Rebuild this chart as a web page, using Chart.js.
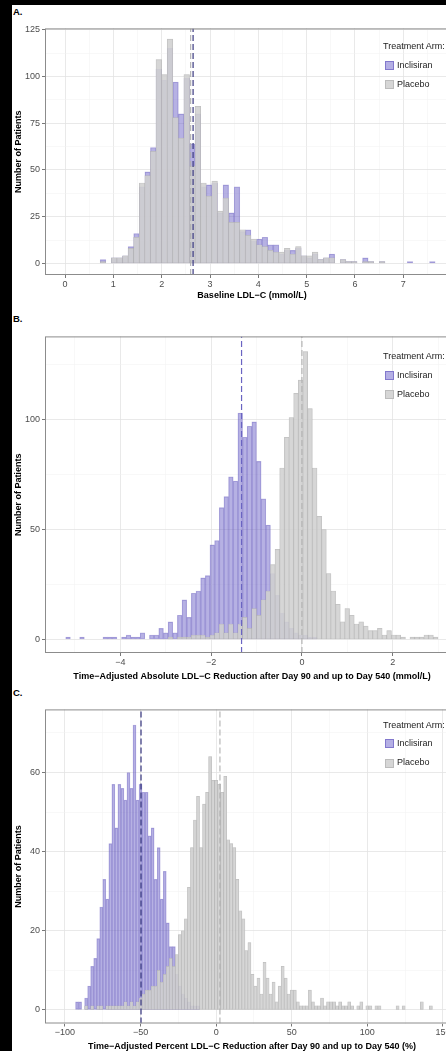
<!DOCTYPE html>
<html>
<head>
<meta charset="utf-8">
<script src="https://cdn.jsdelivr.net/npm/chart.js@4.4.1/dist/chart.umd.min.js"></script>
<style>
  html, body { margin: 0; padding: 0; width: 446px; height: 1051px; overflow: hidden; background: #000; }
  #sheet { position: absolute; left: 12px; top: 5px; width: 440px; height: 1046px; background: #fff; }
  .wrap { position: absolute; left: 12px; width: 450px; }
  .letter { position: absolute; left: 13px; font: bold 9.5px "Liberation Sans", Arial, sans-serif; color: #000; line-height: 11px; }
  .legt { position: absolute; left: 383px; font: 9px "Liberation Sans", Arial, sans-serif; color: #222; line-height: 11px; white-space: nowrap; }
  .sw { position: absolute; left: 384.5px; width: 7px; height: 7px; }
  .sw.inc { background: rgb(180,175,228); border: 0.8px solid rgb(130,120,205); }
  .sw.pla { background: #d6d6d6; border: 0.8px solid #bcbcbc; }
  .legi { position: absolute; left: 397px; font: 9px "Liberation Sans", Arial, sans-serif; color: #222; line-height: 11px; }
</style>
</head>
<body>
<div id="sheet"></div>

<div class="letter" style="top:6px">A.</div>
<div class="wrap" style="top:21px;height:282px"><canvas id="chartA"></canvas></div>

<div class="letter" style="top:313px">B.</div>
<div class="wrap" style="top:329px;height:354px"><canvas id="chartB"></canvas></div>

<div class="letter" style="top:687px">C.</div>
<div class="wrap" style="top:702px;height:351px"><canvas id="chartC"></canvas></div>

<div id="legends"></div>

<script>
// ==================== DATOS ====================
// panel A - baseline LDL-C (mmol/L), bins of ~0.1155
const A_BIN_START = 0.786;
const A_BIN_WIDTH = 0.1155;
const A_INCLISIRAN = [2,0,3,3,4,9,16,41,49,62,104,98,115,97,80,99,64,80,41,42,43,27,42,27,41,17,18,12,13,14,10,10,5,7,7,8,4,3,5,2,3,5,0,2,1,1,0,3,1,0,1,0,0,0,0,1,0,0,0,1,0];
const A_PLACEBO    = [1,0,3,3,4,8,14,43,47,60,109,101,120,78,67,101,52,84,43,36,44,28,35,22,22,18,15,13,10,9,7,6,6,8,5,9,4,4,6,2,3,3,0,2,1,1,0,1,1,0,1,0,0,0,0,0,0,0,0,0,0];
const A_MEANS = [2.65, 2.60];          // inclisiran, placebo
const A_X_TICKS = [0, 1, 2, 3, 4, 5, 6, 7];
const A_Y_TICKS = [0, 25, 50, 75, 100, 125];

// panel B - absolute reduction (mmol/L), bins of ~0.1025
const B_BIN_START = -5.1525;
const B_BIN_WIDTH = 0.1025;
const B_INCLISIRAN = [1,0,0,1,0,0,0,0,1,1,1,0,1,2,1,1,3,0,2,2,5,3,8,3,11,18,10,21,22,28,29,43,45,60,65,74,72,103,92,97,99,81,64,52,30,20,12,8,5,3,2,2,1,1,0,0,0,0,0,0,0,0,0,0,0,0,0,0,0,0,0,0,0,0,0,0,0,0,0,0];
const B_PLACEBO    = [0,0,0,0,0,0,0,0,0,0,0,0,0,0,0,0,0,0,0,0,0,0,1,0,1,1,1,2,2,2,1,2,3,7,3,7,3,7,10,5,14,11,18,22,34,41,78,92,101,112,118,131,105,78,56,50,30,22,16,8,14,11,7,8,6,4,4,5,2,4,2,2,1,0,1,1,1,2,2,1];
const B_MEANS = [-1.33, 0.0];
const B_X_TICKS = [-4, -2, 0, 2];
const B_Y_TICKS = [0, 50, 100];

// panel C - percent reduction (%), bins of 2
const C_BIN_START = -92;
const C_BIN_WIDTH = 2;
const C_INCLISIRAN = [2,2,0,3,6,11,13,18,26,33,28,42,57,46,57,56,53,60,56,72,53,57,55,55,44,46,33,41,28,35,22,16,16,9,6,4,3,2,1,1,1,0,0,0,0,0,0,0,0,0,0,0,0,0,0,0,0,0,0,0,0,0,0,0,0,0,0,0,0,0,0,0,0,0,0,0,0,0,0,0,0,0,0,0,0,0,0,0,0,0,0,0,0,0,0,0,0,0,0,0,0,0,0,0,0,0,0,0,0,0,0,0,0,0,0,0,0,0];
const C_PLACEBO    = [0,0,0,1,0,1,0,1,1,0,1,1,1,1,1,1,2,1,2,1,2,3,4,5,5,6,6,10,7,9,11,13,11,14,19,20,23,31,41,48,54,41,52,55,64,58,58,57,55,59,43,42,41,33,25,23,15,17,9,6,8,4,12,8,4,7,2,6,11,8,4,5,5,2,1,1,1,5,2,1,1,3,1,2,2,2,1,2,1,1,2,1,0,1,2,0,1,1,0,1,1,0,0,0,0,0,1,0,1,0,0,0,0,0,2,0,0,1];
const C_MEANS = [-49.7, 2.5];
const C_X_TICKS = [-100, -50, 0, 50, 100, 150];
const C_Y_TICKS = [0, 20, 40, 60];

// ==================== ESTILO ====================
Chart.defaults.font.family = '"Liberation Sans", Arial, Helvetica, sans-serif';
Chart.defaults.animation = false;

const INC_FILL = 'rgba(110,100,200,0.5)';
const INC_EDGE = 'rgba(110,100,190,0.45)';
const PLA_FILL = 'rgba(208,208,208,0.88)';
const PLA_EDGE = 'rgba(170,170,170,0.8)';
const GRID_MAJOR = '#e3e3e3';
const GRID_MINOR = '#f1f1f1';

function minus(v) { return String(v).replace('-', '\u2212'); }
function near(v, list) { return list.some(t => Math.abs(t - v) < 1e-6); }
function toPoints(start, width, counts) {
    return counts.map((c, i) => ({ x: +(start + i * width).toFixed(4), y: c }));
}

const frame = {
    id: 'frame',
    afterDraw(chart) {
        const { ctx, chartArea: a } = chart;
        ctx.save();
        ctx.strokeStyle = '#8c8c8c';
        ctx.lineWidth = 1;
        ctx.strokeRect(a.left + 0.5, a.top + 0.5, a.width - 1, a.height - 1);
        ctx.restore();
    }
};

function histogram(id, p) {
    const barStyle = { grouped: false, barPercentage: 1, categoryPercentage: 1, borderWidth: 0.5, borderSkipped: false };
    new Chart(document.getElementById(id), {
        type: 'bar',
        data: {
            datasets: [
                { type: 'line', data: [{ x: p.means[0], y: p.ymin }, { x: p.means[0], y: p.ymax }],
                  borderColor: p.incLine, borderWidth: 1.2, borderDash: [6, 3], pointRadius: 0, order: 0 },
                { type: 'line', data: [{ x: p.means[1], y: p.ymin }, { x: p.means[1], y: p.ymax }],
                  borderColor: '#b0b0b0', borderWidth: 1.1, borderDash: [6, 3], pointRadius: 0, order: 0 },
                Object.assign({ label: 'Placebo', data: toPoints(p.start, p.width, p.placebo),
                  backgroundColor: PLA_FILL, borderColor: PLA_EDGE, order: 1 }, barStyle),
                Object.assign({ label: 'Inclisiran', data: toPoints(p.start, p.width, p.inclisiran),
                  backgroundColor: INC_FILL, borderColor: INC_EDGE, order: 2 }, barStyle)
            ]
        },
        options: {
            responsive: true,
            maintainAspectRatio: false,
            layout: { padding: { left: 0, right: 3, top: 6, bottom: 0 } },
            plugins: { legend: { display: false }, tooltip: { enabled: false } },
            scales: {
                x: {
                    type: 'linear', min: p.xmin, max: p.xmax, offset: false,
                    border: { display: false },
                    grid: {
                        offset: false,
                        color: c => near(c.tick.value, p.xticks) ? GRID_MAJOR : GRID_MINOR,
                        lineWidth: c => near(c.tick.value, p.xticks) ? 0.8 : 0.5,
                        tickColor: c => near(c.tick.value, p.xticks) ? '#555' : 'rgba(0,0,0,0)',
                        tickLength: 3
                    },
                    ticks: {
                        stepSize: p.xstep, includeBounds: false, autoSkip: false, maxRotation: 0,
                        padding: 1, color: '#4d4d4d', font: { size: 9 },
                        callback: v => near(v, p.xticks) ? minus(v) : ''
                    },
                    title: { display: true, text: p.xtitle, color: '#000',
                             font: { size: 9, weight: 'bold' }, padding: { top: 0, bottom: p.titlePad } },
                    afterFit: s => { s.height = p.xh; }
                },
                y: {
                    min: p.ymin, max: p.ymax,
                    border: { display: false },
                    grid: {
                        color: c => near(c.tick.value, p.yticks) ? GRID_MAJOR : GRID_MINOR,
                        lineWidth: c => near(c.tick.value, p.yticks) ? 0.8 : 0.5,
                        tickColor: c => near(c.tick.value, p.yticks) ? '#555' : 'rgba(0,0,0,0)',
                        tickLength: 3
                    },
                    ticks: {
                        stepSize: p.ystep, includeBounds: false, autoSkip: false,
                        padding: 2, color: '#4d4d4d', font: { size: 9 },
                        callback: v => near(v, p.yticks) ? minus(v) : ''
                    },
                    title: { display: true, text: 'Number of Patients', color: '#000',
                             font: { size: 9, weight: 'bold' }, padding: { top: 1, bottom: 0 } },
                    afterFit: s => { s.width = 33; }
                }
            }
        },
        plugins: [frame]
    });
}

histogram('chartA', {
    start: A_BIN_START, width: A_BIN_WIDTH, inclisiran: A_INCLISIRAN, placebo: A_PLACEBO,
    means: A_MEANS, incLine: '#3a3880',
    xmin: -0.414, xmax: 8.152, xstep: 0.5, xticks: A_X_TICKS,
    ymin: -6.2, ymax: 125.7, ystep: 12.5, yticks: A_Y_TICKS,
    xtitle: 'Baseline LDL\u2212C (mmol/L)', xh: 28, titlePad: 1.6
});

histogram('chartB', {
    start: B_BIN_START, width: B_BIN_WIDTH, inclisiran: B_INCLISIRAN, placebo: B_PLACEBO,
    means: B_MEANS, incLine: '#6a64c2',
    xmin: -5.66, xmax: 3.46, xstep: 1, xticks: B_X_TICKS,
    ymin: -6.2, ymax: 137.9, ystep: 25, yticks: B_Y_TICKS,
    xtitle: 'Time\u2212Adjusted Absolute LDL\u2212C Reduction after Day 90 and up to Day 540 (mmol/L)',
    xh: 30, titlePad: 0.9
});

histogram('chartC', {
    start: C_BIN_START, width: C_BIN_WIDTH, inclisiran: C_INCLISIRAN, placebo: C_PLACEBO,
    means: C_MEANS, incLine: '#33327c',
    xmin: -113.2, xmax: 160.6, xstep: 25, xticks: C_X_TICKS,
    ymin: -3.45, ymax: 75.95, ystep: 10, yticks: C_Y_TICKS,
    xtitle: 'Time\u2212Adjusted Percent LDL\u2212C Reduction after Day 90 and up to Day 540 (%)',
    xh: 29.5, titlePad: 1.1
});

// ==================== LEYENDAS ====================
const LEGEND_ROWS = [[46.7, 65, 84], [356.7, 375, 394], [725, 743.3, 762.7]];
const holder = document.getElementById('legends');
LEGEND_ROWS.forEach(r => {
    holder.insertAdjacentHTML('beforeend',
        '<div class="legt" style="top:' + (r[0] - 5.5) + 'px">Treatment Arm:</div>' +
        '<div class="sw inc" style="top:' + (r[1] - 4) + 'px"></div>' +
        '<div class="legi" style="top:' + (r[1] - 5.5) + 'px">Inclisiran</div>' +
        '<div class="sw pla" style="top:' + (r[2] - 4) + 'px"></div>' +
        '<div class="legi" style="top:' + (r[2] - 5.5) + 'px">Placebo</div>');
});
</script>
</body>
</html>
